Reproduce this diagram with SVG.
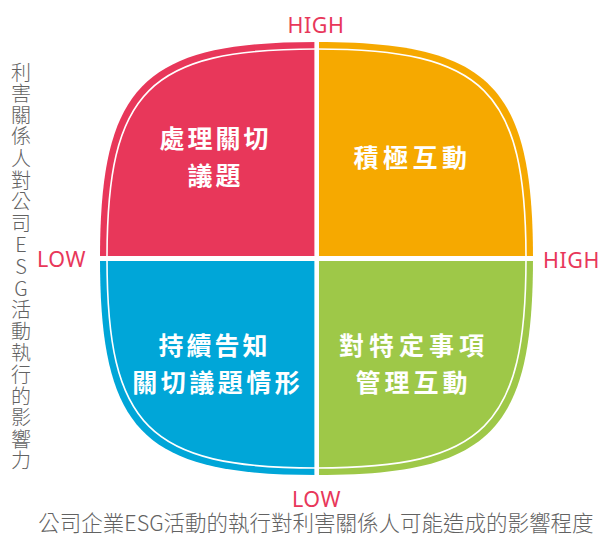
<svg xmlns="http://www.w3.org/2000/svg" width="599" height="536" viewBox="0 0 599 536">
<style>
.q-label{font-family:"Noto Sans CJK TC","Noto Sans CJK SC",sans-serif;font-weight:700;font-size:25px;fill:#ffffff;text-anchor:middle}
.axis{font-family:"Noto Sans","Open Sans",sans-serif;font-size:21.5px;fill:#e8375a;text-anchor:middle;letter-spacing:0.5px}
.title{font-family:"Noto Sans CJK TC","Noto Sans CJK SC",sans-serif;font-weight:300;font-size:21.5px;fill:#626262;text-anchor:middle}
.vtitle{font-family:"Noto Sans CJK TC","Noto Sans CJK SC",sans-serif;font-weight:300;font-size:20px;fill:#626262;writing-mode:vertical-rl;text-orientation:upright;letter-spacing:1.6px}
.div{fill:#ffffff}
</style>
<rect width="599" height="536" fill="#ffffff"/>
<g id="q-top-left">
<path d="M316.5,258.5 L100,258.5 C100,85.3 143.3,42 316.5,42 Z" fill="#e8375a"/>
<text class="q-label" style="letter-spacing:3px" x="215.5" y="148">處理關切</text>
<text class="q-label" style="letter-spacing:3px" x="215.5" y="185">議題</text>
</g>
<g id="q-top-right">
<path d="M316.5,258.5 L316.5,42 C489.7,42 533,85.3 533,258.5 Z" fill="#f6a900"/>
<text class="q-label" style="letter-spacing:4.5px" x="412.5" y="167">積極互動</text>
</g>
<g id="q-bottom-left">
<path d="M316.5,258.5 L316.5,475 C143.3,475 100,431.7 100,258.5 Z" fill="#00a6d8"/>
<text class="q-label" style="letter-spacing:3px" x="214.5" y="355">持續告知</text>
<text class="q-label" style="letter-spacing:3.5px" x="217.7" y="392">關切議題情形</text>
</g>
<g id="q-bottom-right">
<path d="M316.5,258.5 L533,258.5 C533,431.7 489.7,475 316.5,475 Z" fill="#9ec848"/>
<text class="q-label" style="letter-spacing:5px" x="414" y="355">對特定事項</text>
<text class="q-label" style="letter-spacing:4px" x="413.5" y="392">管理互動</text>
</g>
<g id="connectors">
<rect class="div" x="314.4" y="38" width="4.6" height="441"/>
<rect class="div" x="96" y="256" width="441" height="5"/>
<path d="M316.5,49 C484.3,49 526,90.7 526,258.5 C526,426.3 484.3,468 316.5,468 C148.7,468 107,426.3 107,258.5 C107,90.7 148.7,49 316.5,49 Z" fill="none" stroke="#ffffff" stroke-width="1.6"/>
</g>
<g id="axis-labels">
<text class="axis" x="316" y="33">HIGH</text>
<text class="axis" x="61.5" y="267">LOW</text>
<text class="axis" x="571.5" y="268">HIGH</text>
<text class="axis" x="316.5" y="507">LOW</text>
</g>
<g id="y-title">
<text class="vtitle" x="21" y="62">利害關係人對公司ESG活動執行的影響力</text>
</g>
<g id="x-title">
<text class="title" x="316" y="531">公司企業ESG活動的執行對利害關係人可能造成的影響程度</text>
</g>
</svg>
